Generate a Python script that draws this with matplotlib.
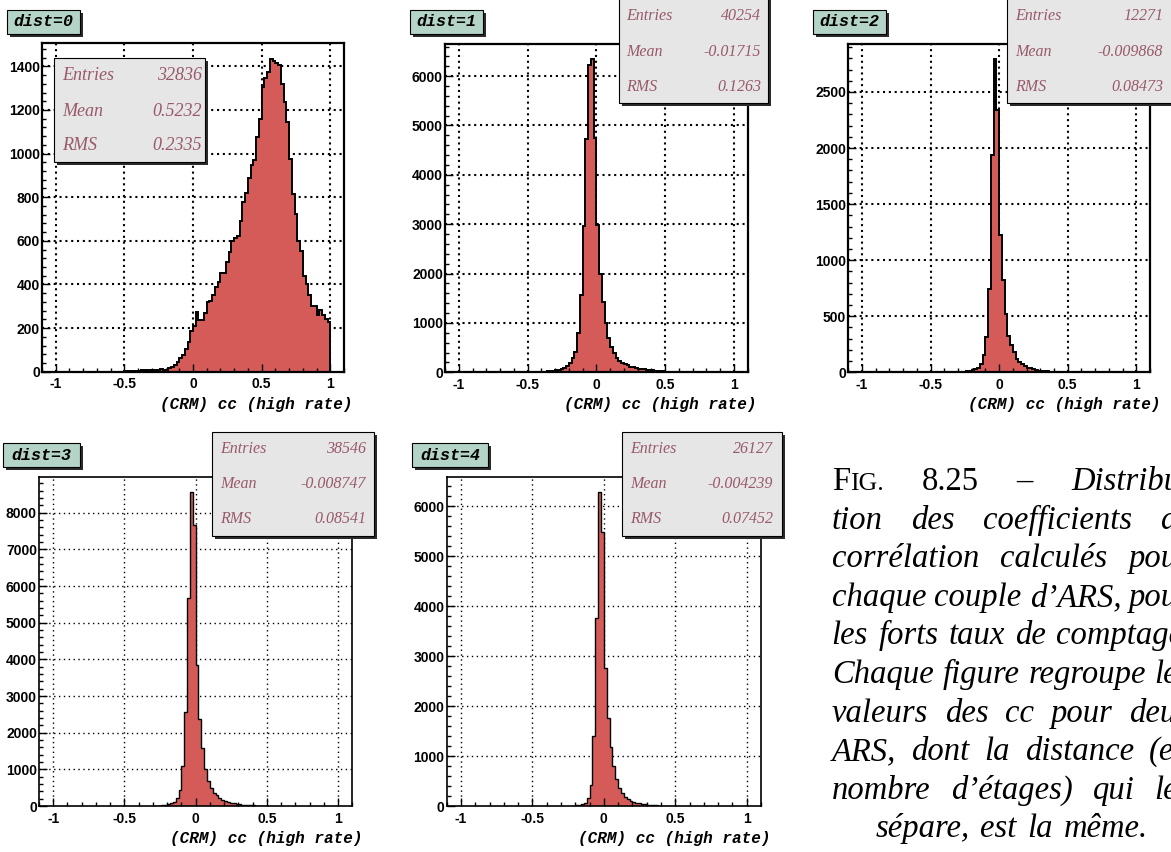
"""Distribution des coefficients de corrélation (5 histogrammes style ROOT + légende)."""

import numpy as np
import matplotlib
matplotlib.use("Agg")
import matplotlib.pyplot as plt
from matplotlib.patches import Rectangle
from matplotlib.ticker import MultipleLocator, FuncFormatter

plt.rcParams["font.family"] = "Liberation Sans"
plt.rcParams["font.weight"] = "bold"
plt.rcParams["axes.unicode_minus"] = False

W, H = 1171, 852
BIN = 0.02

TITLES = ["dist=0", "dist=1", "dist=2", "dist=3", "dist=4"]
ENTRIES = ["32836", "40254", "12271", "38546", "26127"]
MEANS = ["0.5232", "-0.01715", "-0.009868", "-0.008747", "-0.004239"]
RMS = ["0.2335", "0.1263", "0.08473", "0.08541", "0.07452"]
XLABEL = "(CRM) cc (high rate)"

# bord inférieur du premier bin, puis contenu des bins (largeur 0.02)
STARTS = [-0.50, -0.50, -0.30, -0.30, -0.24]
COUNTS_0 = [2, 3, 4, 3, 5, 4, 6, 5, 7, 6, 8, 7, 9, 11, 7, 9, 15, 20, 30, 43,
            61, 78, 104, 134, 185,
            210, 272, 238, 238, 270, 318, 322, 350, 390, 410,
            452, 452, 502, 547, 598, 612, 620, 692, 779, 818,
            888, 946, 970, 1078, 1160, 1306, 1345, 1372, 1434, 1425,
            1416, 1404, 1320, 1237, 1145, 974, 814, 722, 597, 554,
            440, 400, 350, 300, 300, 258, 282, 258, 240, 230]
COUNTS_1 = [3, 4, 5, 7, 9, 12, 15, 20, 25, 35, 40, 55, 70, 90, 125, 190, 290,
            420, 800, 1560, 2960, 4730, 6230, 6340, 4750, 2980, 2000, 1430,
            1000, 700, 520, 390, 295, 228, 185, 160, 138, 115, 100, 88, 76,
            66, 58, 50, 44, 38, 32, 27, 22, 18, 15, 12, 10, 8, 6, 5, 4, 3, 3, 2]
COUNTS_2 = [3, 4, 6, 8, 12, 17, 25, 42, 77, 152, 315, 747, 1937, 2791, 2339,
            1223, 821, 524, 321, 241, 182, 122, 92, 70, 55, 42, 34, 26, 20,
            16, 12, 10, 8, 6, 5, 4, 3, 2]
COUNTS_3 = [5, 8, 12, 18, 28, 45, 73, 118, 209, 436, 1091, 2554, 5663, 8554,
            7663, 3845, 2363, 1573, 1000, 691, 482, 364, 290, 230, 170, 135,
            110, 90, 72, 58, 46, 37, 30, 24, 19, 15, 12, 9, 7, 5, 4]
COUNTS_4 = [5, 10, 18, 30, 45, 67, 153, 420, 1400, 3753, 6273, 5487, 2753,
            1753, 1187, 807, 540, 353, 253, 187, 140, 105, 85, 68, 54, 42, 33,
            26, 20, 15, 12, 9, 7, 5, 4]
COUNTS = [COUNTS_0, COUNTS_1, COUNTS_2, COUNTS_3, COUNTS_4]

CAPTION = [
    "tion des coefficients de",
    "corrélation calculés pour",
    "chaque couple d’ARS, pour",
    "les forts taux de comptage.",
    "Chaque figure regroupe les",
    "valeurs des cc pour deux",
    "ARS, dont la distance (en",
    "nombre d’étages) qui les",
]
CAPTION_LAST = "sépare, est la même."

FILL = "#d45b57"
TITLE_BG = "#b3d4c7"
STAT_BG = "#e6e6e6"
STAT_FG = "#98596a"
SHADOW = "#2b2b2b"
SERIF = "Liberation Serif"
MONO = "Liberation Mono"

# positions en pixels de la figure (x0, y0 haut, x1, y1 bas)
LAYOUT = [
    dict(ax=(42, 43.3, 344, 371.7), title=(7, 10, 83, 37), stats=(54, 58, 208, 165),
         rows=(75, 111, 146), tx=(62, 202), xl=(353, 405), step=200, fs=13, top=True),
    dict(ax=(445, 43.7, 747.7, 372.3), title=(410, 10, 486, 37), stats=(619, -3, 771, 106),
         rows=(16, 52, 87), tx=(626, 761), xl=(756, 405), step=1000, fs=11.5, top=True),
    dict(ax=(848.3, 43.7, 1150, 372.3), title=(813, 10, 889, 37), stats=(1007, -3, 1180, 106),
         rows=(16, 52, 87), tx=(1015, 1163), xl=(1161, 405), step=500, fs=11.5, top=True),
    dict(ax=(39, 476.7, 352.3, 806), title=(3, 443, 83, 470), stats=(212, 432, 377, 539),
         rows=(449, 484, 519), tx=(220, 366), xl=(362, 838), step=1000, fs=11.5, top=False),
    dict(ax=(446.7, 476.7, 761, 806), title=(412, 443, 491, 470), stats=(622, 432, 785, 539),
         rows=(449, 484, 519), tx=(630, 773), xl=(770, 838), step=1000, fs=11.5, top=False),
]


def fx(x):
    return x / W


def fy(y):
    return 1 - y / H


def shadow_box(fig, x0, y0, x1, y1, face, sh=3):
    fig.add_artist(Rectangle((fx(x0 + sh), fy(y1)), (x1 - x0 - sh) / W, (y1 - y0 - sh) / H,
                             transform=fig.transFigure, facecolor=SHADOW, edgecolor="none",
                             zorder=5))
    fig.add_artist(Rectangle((fx(x0), fy(y1 - sh)), (x1 - x0 - sh) / W, (y1 - y0 - sh) / H,
                             transform=fig.transFigure, facecolor=face, edgecolor="black",
                             linewidth=0.8, zorder=5.1))


def draw_panel(fig, i) -> None:
    lay = LAYOUT[i]
    x0, y0, x1, y1 = lay["ax"]
    top = lay["top"]
    ax = fig.add_axes([fx(x0), fy(y1), (x1 - x0) / W, (y1 - y0) / H])

    counts = COUNTS[i]
    edges = STARTS[i] + BIN * np.arange(len(counts) + 1)
    ax.stairs(counts, edges, fill=True, color=FILL, linewidth=0, zorder=1)
    ax.stairs(counts, edges, color="black", linewidth=1.4 if top else 1.0, zorder=1.1)

    ax.set_xlim(-1.1, 1.1)
    ax.set_ylim(0, 1.05 * max(counts))
    ax.xaxis.set_major_locator(MultipleLocator(0.5))
    ax.xaxis.set_minor_locator(MultipleLocator(0.1))
    ax.yaxis.set_major_locator(MultipleLocator(lay["step"]))
    ax.yaxis.set_minor_locator(MultipleLocator(lay["step"] / 5))
    ax.xaxis.set_major_formatter(FuncFormatter(lambda v, p: f"{v + 0:g}"))
    ax.yaxis.set_major_formatter(FuncFormatter(lambda v, p: f"{v:.0f}"))

    # grille pointillée sous l'histogramme
    glw = 1.5 if top else 1.0
    gls = (0, (1, 1.8)) if top else (0, (1, 2.5))
    for v in np.arange(-1, 1.01, 0.5):
        ax.axvline(v, color="black", lw=glw, ls=gls, zorder=0.5)
    for v in np.arange(lay["step"], ax.get_ylim()[1], lay["step"]):
        ax.axhline(v, color="black", lw=glw, ls=gls, zorder=0.5)

    ax.tick_params(which="both", direction="in", top=False, right=False,
                   labelsize=10, width=1.0)
    ax.tick_params(which="major", length=6)
    ax.tick_params(which="minor", length=3)
    ax.tick_params(axis="y", pad=1.5)
    ax.tick_params(axis="x", pad=4)
    for s in ax.spines.values():
        s.set_linewidth(1.6 if top else 1.2)

    fig.text(fx(lay["xl"][0]), fy(lay["xl"][1]), XLABEL, ha="right", va="center",
             family=MONO, style="italic", weight="bold", fontsize=11.5)

    # étiquette "dist=n"
    tx0, ty0, tx1, ty1 = lay["title"]
    shadow_box(fig, tx0, ty0, tx1, ty1, TITLE_BG)
    fig.text(fx((tx0 + tx1 - 3) / 2), fy((ty0 + ty1 - 3) / 2), TITLES[i], ha="center",
             va="center", family=MONO, style="italic", weight="bold", fontsize=12, zorder=6)

    # boîte de statistiques
    sx0, sy0, sx1, sy1 = lay["stats"]
    shadow_box(fig, sx0, sy0, sx1, sy1, STAT_BG)
    for name, val, ry in zip(["Entries", "Mean", "RMS"], [ENTRIES[i], MEANS[i], RMS[i]],
                             lay["rows"]):
        fig.text(fx(lay["tx"][0]), fy(ry), name, ha="left", va="center", family=SERIF,
                 style="italic", weight="normal", fontsize=lay["fs"], color=STAT_FG, zorder=6)
        fig.text(fx(lay["tx"][1]), fy(ry), val, ha="right", va="center", family=SERIF,
                 style="italic", weight="normal", fontsize=lay["fs"], color=STAT_FG, zorder=6)


def place_line(fig, words, y, left=831.7, right=1191, center=None) -> None:
    """Place une ligne de légende, justifiée entre left et right (ou centrée)."""
    r = fig.canvas.get_renderer()
    items = []
    for word in words:
        segs = []
        for s, size, style in word:
            t = fig.text(0, fy(y), s, fontsize=size, style=style, family=SERIF,
                         weight="normal", ha="left", va="baseline")
            segs.append((t, t.get_window_extent(r).width))
        items.append(segs)
    widths = [sum(w for _, w in segs) for segs in items]
    if center is None:
        gap = (right - left - sum(widths)) / (len(items) - 1)
    else:
        gap = 0.33 * 23.5 * 100 / 72
        left = center - (sum(widths) + gap * (len(items) - 1)) / 2
    x = left
    for segs, w in zip(items, widths):
        xx = x
        for t, sw in segs:
            t.set_x(fx(xx))
            xx += sw
        x += w + gap


def main() -> None:
    fig = plt.figure(figsize=(W / 100, H / 100), dpi=100)
    for i in range(5):
        draw_panel(fig, i)

    fs = 23.5
    head = [[("F", fs, "normal"), ("IG.", 18.5, "normal")], [("8.25", fs, "normal")],
            [("–", fs, "normal")], [("Distribu-", fs, "italic")]]
    base, step = 490, 38.6
    place_line(fig, head, base)
    for k, line in enumerate(CAPTION):
        place_line(fig, [[(w, fs, "italic")] for w in line.split()], base + step * (k + 1))
    place_line(fig, [[(w, fs, "italic")] for w in CAPTION_LAST.split()],
               base + step * (len(CAPTION) + 1), center=1011.5)

    fig.savefig("out.png", dpi=100)


if __name__ == "__main__":
    main()
